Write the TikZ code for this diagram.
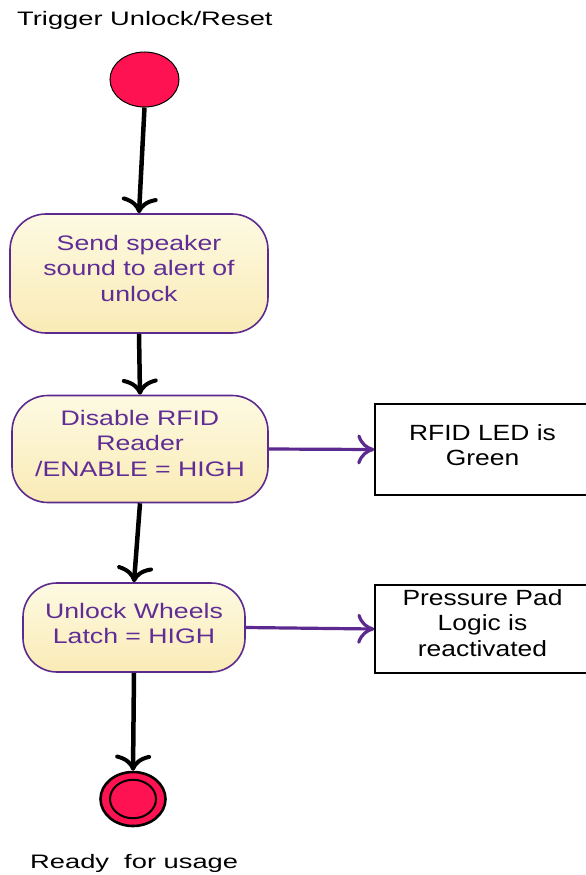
\documentclass[tikz,border=0pt]{standalone}
\usepackage{fontspec}
\setmainfont{Liberation Sans}
\newfontfamily\boxfont[FakeStretch=1.27]{Liberation Sans}
\newfontfamily\notefont[FakeStretch=1.2]{Liberation Sans}
\newfontfamily\capfont[FakeStretch=1.4]{Liberation Sans}
\usetikzlibrary{arrows.meta,shapes.geometric}

\definecolor{actpurple}{RGB}{92,42,142}
\definecolor{acttext}{RGB}{96,45,150}
\definecolor{fillTop}{RGB}{253,250,226}
\definecolor{fillBot}{RGB}{250,235,182}
\definecolor{nodered}{RGB}{255,18,82}

\tikzset{
  activity/.style={draw=actpurple, line width=1.6pt, rounded corners=36pt,
    top color=fillTop, bottom color=fillBot, inner sep=0pt},
  acttextstyle/.style={text=acttext, font=\boxfont\fontsize{21}{25.5}\selectfont,
    align=center, inner sep=0pt},
  note/.style={draw=black, line width=1.4pt, fill=white, inner sep=0pt,
    minimum width=215pt},
  notetext/.style={font=\notefont\fontsize{22}{25.5}\selectfont, align=center, inner sep=0pt},
  caption/.style={font=\capfont\fontsize{19.5}{23}\selectfont, inner sep=0pt, anchor=base west},
  flow/.style={line width=4.5pt, black,
    -{Computer Modern Rightarrow[length=16pt, width=36pt, line width=4pt]}},
  signal/.style={line width=3.2pt, actpurple,
    -{Computer Modern Rightarrow[length=17pt, width=30pt, line width=3.2pt]}},
}

\begin{document}
\begin{tikzpicture}[x=1pt,y=-1pt]
  \clip (0,0) rectangle (586,875);
  \fill[white] (0,0) rectangle (586,875);

  % initial and final states
  \node[ellipse, draw=black, line width=1pt, fill=nodered,
        minimum width=69pt, minimum height=55pt, inner sep=0pt] (start) at (144.5,79.5) {};
  \node[ellipse, draw=black, line width=2.6pt, fill=nodered,
        minimum width=65pt, minimum height=54pt, inner sep=0pt] (final) at (133,799) {};
  \node[ellipse, draw=black, line width=2pt, fill=nodered,
        minimum width=46pt, minimum height=38.5pt, inner sep=0pt] (finalcore) at (133,799) {};

  % activities
  \node[activity, minimum width=258pt, minimum height=119pt] (speaker) at (139,273.5) {};
  \node[acttextstyle] (speakertext) at ([yshift=5.5pt]speaker.center)
    {Send speaker\\sound to alert of\\unlock};
  \node[activity, minimum width=256pt, minimum height=107pt] (rfid) at (140,449) {};
  \node[acttextstyle] (rfidtext) at ([yshift=6pt]rfid.center)
    {Disable RFID\\Reader\\/ENABLE = HIGH};
  \node[activity, rounded corners=34pt, minimum width=222pt, minimum height=89pt] (wheels) at (134,627.5) {};
  \node[acttextstyle] (wheelstext) at ([yshift=4pt]wheels.center)
    {Unlock Wheels\\Latch = HIGH};

  % side notes
  \node[note, minimum height=91pt] (led) at (482.5,449.5) {};
  \node[notetext] (ledtext) at ([yshift=4.5pt]led.center) {RFID LED is\\Green};
  \node[note, minimum height=88pt] (pad) at (482.5,629) {};
  \node[notetext] (padtext) at ([yshift=6pt]pad.center) {Pressure Pad\\Logic is\\reactivated};

  % captions
  \node[caption] (trigger) at (17,26) {Trigger Unlock/Reset};
  \node[caption] (ready) at (30,868) {Ready~\ for usage};

  % control flow
  \draw[flow] (start.south) -- (speaker.north);
  \draw[flow] (speaker.south) -- (rfid.north);
  \draw[flow] (rfid.south) -- (wheels.north);
  \draw[flow] (wheels.south) -- (final.north);

  % side effects
  \draw[signal] (rfid.east) -- (led.west);
  \draw[signal] (wheels.east) -- (pad.west);
\end{tikzpicture}
\end{document}
